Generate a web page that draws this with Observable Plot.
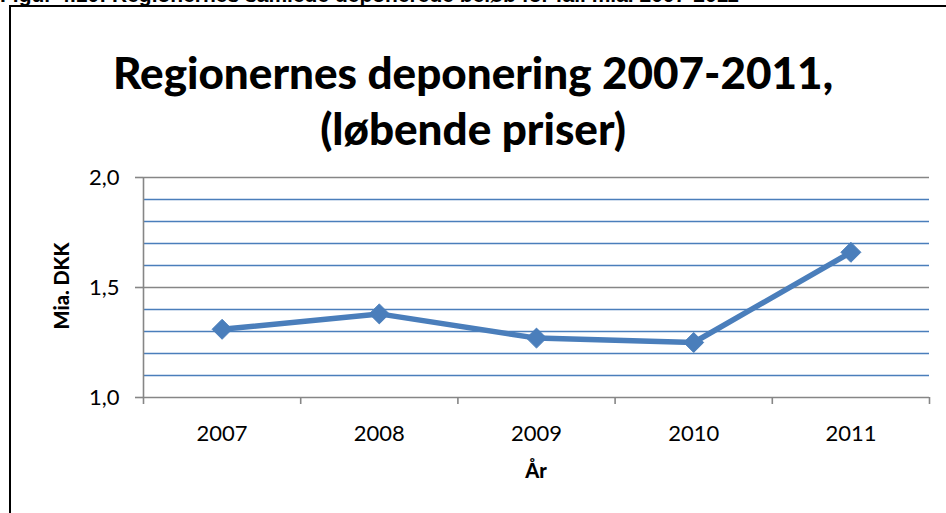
<!DOCTYPE html>
<html>
<head>
<meta charset="utf-8">
<script src="https://cdn.jsdelivr.net/npm/d3@7"></script>
<script src="https://cdn.jsdelivr.net/npm/@observablehq/plot@0.6"></script>
<style>
  html, body { margin: 0; padding: 0; background: #fff; }
  #wrap { position: relative; width: 946px; height: 513px; overflow: hidden; font-family: Lato, "Open Sans", sans-serif; }
  #fig { position: absolute; left: 0; top: -17px; font-family: "Liberation Sans", Arial, sans-serif; font-weight: bold; font-size: 21px; line-height: 24px; white-space: nowrap; color: #000; }
  #frame { position: absolute; left: 9px; top: 5px; width: 1000px; height: 600px; border-left: 2px solid #000; border-top: 2px solid #000; }
  #title { position: absolute; left: 0; width: 946px; top: 44px; text-align: center; font-weight: 900; font-size: 44px; line-height: 56px; color: #000; }
  #chart { position: absolute; left: 0; top: 0; }
  #ylab { position: absolute; left: 61px; top: 286px; transform: translate(-50%, -50%) rotate(-90deg); font-weight: 900; font-size: 20px; white-space: nowrap; }
  #xlab { position: absolute; left: 536px; top: 470px; transform: translate(-50%, -50%); font-weight: 900; font-size: 20px; }
</style>
</head>
<body>
<div id="wrap">
  <div id="fig">Figur 4.10: Regionernes samlede deponerede beløb for fall mia. 2007-2011</div>
  <div id="frame"></div>
  <div id="chart"></div>
  <div id="title">Regionernes deponering 2007-2011,<br>(løbende priser)</div>
  <div id="ylab">Mia. DKK</div>
  <div id="xlab">År</div>
</div>
<script>
const years = [2007, 2008, 2009, 2010, 2011];
const values = [1.31, 1.38, 1.27, 1.25, 1.66];
const yTicks = [1.0, 1.5, 2.0];
const minorGrid = [1.1, 1.2, 1.3, 1.4, 1.6, 1.7, 1.8, 1.9];

const data = years.map((year, i) => ({year, value: values[i]}));
const bounds = [years[0] - 0.5, ...years.map(y => y + 0.5)];
const blue = "#4A7EBB";
const gray = "#868686";

const chart = Plot.plot({
  width: 946,
  height: 513,
  marginLeft: 143,
  marginRight: 17,
  marginTop: 177,
  marginBottom: 116,
  style: {fontFamily: "Lato, 'Open Sans', sans-serif", fontSize: "22px", color: "#000", background: "transparent"},
  x: {domain: [bounds[0], bounds[bounds.length - 1]]},
  y: {domain: [1, 2]},
  marks: [
    Plot.ruleY(minorGrid, {stroke: blue, strokeWidth: 1.6}),
    Plot.ruleY([1.5, 2], {stroke: gray, strokeWidth: 1.6}),
    Plot.ruleY([1], {stroke: gray, strokeWidth: 1.6}),
    Plot.ruleX([bounds[0]], {stroke: gray, strokeWidth: 1.6}),
    Plot.axisX(bounds, {tickSize: 7, tickFormat: () => "", stroke: gray, strokeWidth: 1.6, label: null}),
    Plot.axisX(years, {tickSize: 0, tickPadding: 28, tickFormat: d => String(d), label: null, fill: "#000"}),
    Plot.axisY(yTicks, {tickSize: 8, tickPadding: 16, stroke: gray, strokeWidth: 1.6, tickFormat: d => d.toFixed(1).replace(".", ","), label: null, fill: "#000"}),
    Plot.line(data, {x: "year", y: "value", stroke: blue, strokeWidth: 5.5}),
    Plot.dot(data, {x: "year", y: "value", symbol: "diamond2", r: 9, fill: blue, stroke: blue, strokeWidth: 1})
  ]
});
document.getElementById("chart").appendChild(chart);
</script>
</body>
</html>
